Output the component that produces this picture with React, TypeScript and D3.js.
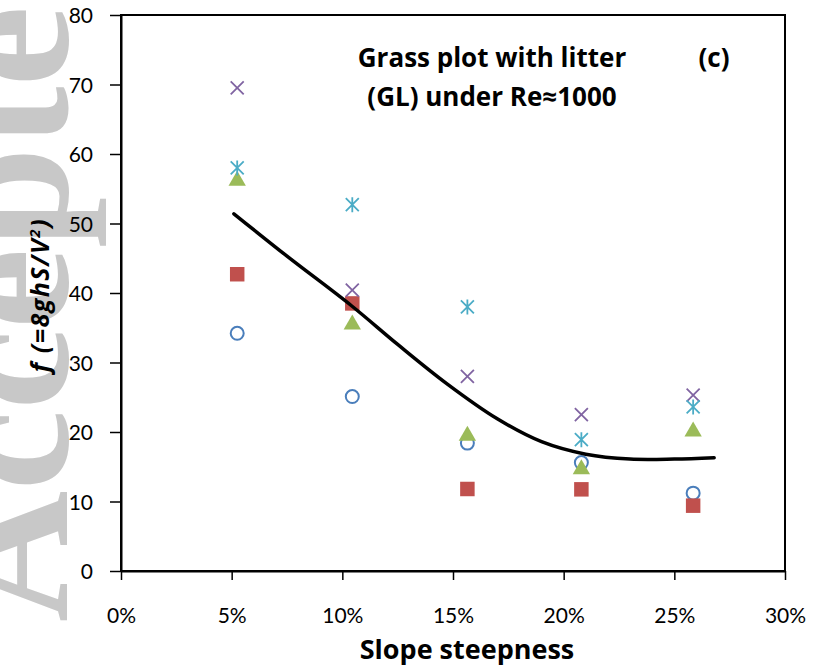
import React, { useEffect, useRef } from "react";
import * as d3 from "d3";

// slope steepness of the five plots
const slopes = [0.0525, 0.1045, 0.1565, 0.208, 0.2585];

// friction factor per run
const seriesCircle = [34.2, 25.1, 18.4, 15.6, 11.2];
const seriesSquare = [42.7, 38.5, 11.8, 11.75, 9.4];
const seriesTriangle = [56.3, 35.6, 19.6, 14.8, 20.2];
const seriesCross = [69.5, 40.4, 28.0, 22.5, 25.3];
const seriesStar = [58.0, 52.7, 38.0, 18.9, 23.6];

// fitted curve
const trendX = [0.051, 0.075, 0.104, 0.125, 0.147, 0.17, 0.19, 0.21, 0.23, 0.25, 0.268];
const trendY = [51.4, 45.3, 38.2, 32.6, 27.0, 21.9, 18.6, 16.8, 16.1, 16.1, 16.3];

const yTicks = [0, 10, 20, 30, 40, 50, 60, 70, 80];
const xTicks = [0, 0.05, 0.1, 0.15, 0.2, 0.25, 0.3];

const FONT = "Lato, 'Open Sans', sans-serif";
const BOLD = "'Open Sans', Lato, sans-serif";

const App = () => {
  const ref = useRef<SVGSVGElement>(null);

  useEffect(() => {
    const svg = d3.select(ref.current);
    svg.selectAll("*").remove();

    const margin = { left: 121, top: 15, right: 28, bottom: 98 };
    const W = 813;
    const H = 669;
    const width = W - margin.left - margin.right;
    const height = H - margin.top - margin.bottom;

    // watermark
    svg
      .append("text")
      .attr("transform", "translate(67,622) rotate(-90)")
      .attr("font-family", "'Liberation Serif', 'DejaVu Serif', serif")
      .attr("font-weight", "bold")
      .attr("font-size", 182)
      .attr("fill", "#c8c8c8")
      .text("Accepted");

    const x = d3.scaleLinear().domain([0, 0.3]).range([0, width]);
    const y = d3.scaleLinear().domain([0, 80]).range([height, 0]);

    const g = svg
      .append("g")
      .attr("transform", "translate(" + margin.left + "," + margin.top + ")");

    // frame
    g.append("rect")
      .attr("width", width)
      .attr("height", height)
      .attr("fill", "none")
      .attr("stroke", "#000")
      .attr("stroke-width", 2);

    const yAxis = d3
      .axisLeft(y)
      .tickValues(yTicks)
      .tickSize(11)
      .tickPadding(17)
      .tickSizeOuter(0);
    const xAxis = d3
      .axisBottom(x)
      .tickValues(xTicks)
      .tickFormat(d3.format(".0%"))
      .tickSize(9)
      .tickPadding(28)
      .tickSizeOuter(0);

    const ya = g.append("g").call(yAxis);
    const xa = g.append("g").attr("transform", "translate(0," + height + ")").call(xAxis);
    [ya, xa].forEach(a => {
      a.select(".domain").attr("stroke-width", 2);
      a.selectAll(".tick line").attr("stroke-width", 1.5);
      a.selectAll(".tick text")
        .attr("font-family", FONT)
        .attr("font-size", 21)
        .attr("fill", "#000");
    });
    ya.selectAll(".tick text").attr("dy", "0.36em");

    // marks
    const pts = (vals: number[]) => vals.map((v, i) => [x(slopes[i]), y(v)]);

    g.append("g")
      .selectAll("circle")
      .data(pts(seriesCircle))
      .enter()
      .append("circle")
      .attr("cx", d => d[0])
      .attr("cy", d => d[1])
      .attr("r", 6.5)
      .attr("fill", "none")
      .attr("stroke", "#4a7ebb")
      .attr("stroke-width", 2);

    g.append("g")
      .selectAll("path")
      .data(pts(seriesSquare))
      .enter()
      .append("path")
      .attr("d", d3.symbol().type(d3.symbolSquare).size(210))
      .attr("transform", d => "translate(" + d[0] + "," + d[1] + ")")
      .attr("fill", "#c0504d");

    g.append("g")
      .selectAll("path")
      .data(pts(seriesTriangle))
      .enter()
      .append("path")
      .attr("d", d3.symbol().type(d3.symbolTriangle).size(130))
      .attr("transform", d => "translate(" + d[0] + "," + (d[1] + 1) + ")")
      .attr("fill", "#9bbb59");

    const s = 6.5;
    g.append("g")
      .selectAll("path")
      .data(pts(seriesCross))
      .enter()
      .append("path")
      .attr("d", d => `M${d[0] - s},${d[1] - s}L${d[0] + s},${d[1] + s}M${d[0] - s},${d[1] + s}L${d[0] + s},${d[1] - s}`)
      .attr("stroke", "#8064a2")
      .attr("stroke-width", 1.8)
      .attr("fill", "none");

    g.append("g")
      .selectAll("path")
      .data(pts(seriesStar))
      .enter()
      .append("path")
      .attr("d", d => `M${d[0] - s},${d[1] - s}L${d[0] + s},${d[1] + s}M${d[0] - s},${d[1] + s}L${d[0] + s},${d[1] - s}M${d[0]},${d[1] - s - 1}L${d[0]},${d[1] + s + 1}`)
      .attr("stroke", "#4bacc6")
      .attr("stroke-width", 1.8)
      .attr("fill", "none");

    // trend line
    const line = d3
      .line<number>()
      .x((d, i) => x(trendX[i]))
      .y(d => y(d))
      .curve(d3.curveCatmullRom);
    g.append("path")
      .datum(trendY)
      .attr("d", line)
      .attr("fill", "none")
      .attr("stroke", "#000")
      .attr("stroke-width", 3.5)
      .attr("stroke-linecap", "round");

    // titles
    const title = svg
      .append("g")
      .attr("font-family", BOLD)
      .attr("font-weight", "bold")
      .attr("font-size", 26)
      .attr("fill", "#000");
    title.append("text").attr("x", 492).attr("y", 67).attr("text-anchor", "middle").text("Grass plot with litter");
    title.append("text").attr("x", 492).attr("y", 106).attr("text-anchor", "middle").text("(GL) under Re≈1000");
    title.append("text").attr("x", 714).attr("y", 67).attr("text-anchor", "middle").text("(c)");

    svg
      .append("text")
      .attr("x", 467)
      .attr("y", 659)
      .attr("text-anchor", "middle")
      .attr("font-family", BOLD)
      .attr("font-weight", "bold")
      .attr("font-size", 27)
      .text("Slope steepness");

    const yl = svg
      .append("text")
      .attr("transform", "translate(49,295) rotate(-90)")
      .attr("text-anchor", "middle")
      .attr("font-family", BOLD)
      .attr("font-weight", "bold")
      .attr("font-style", "italic")
      .attr("letter-spacing", 1.5)
      .attr("font-size", 25);
    yl.append("tspan").text("f (=8ghS/V");
    yl.append("tspan").attr("font-size", 15).attr("dy", -9).text("2");
    yl.append("tspan").attr("dy", 9).text(")");
  }, []);

  return <svg ref={ref} width={813} height={669} style={{ display: "block", position: "absolute", left: 0, top: 0 }} />;
};

export default App;
